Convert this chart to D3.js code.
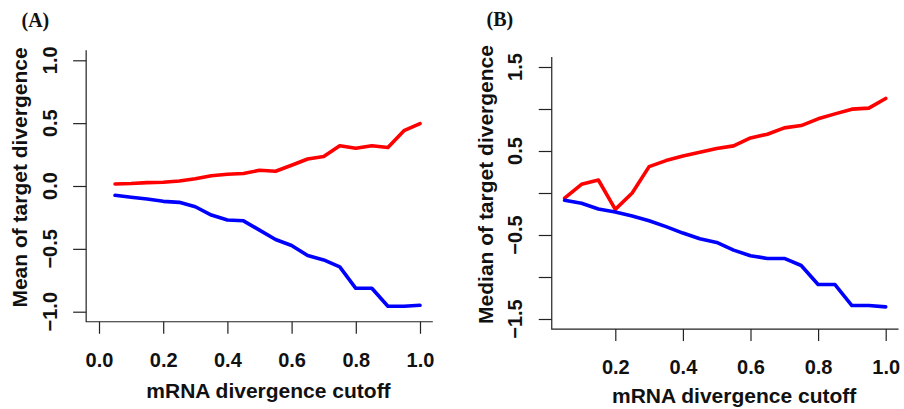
<!DOCTYPE html>
<html>
<head>
<meta charset="utf-8">
<script src="https://cdn.jsdelivr.net/npm/d3@7"></script>
<style>
  html, body { margin: 0; padding: 0; background: #fff; }
  svg { display: block; }
  text { font-family: "Liberation Sans", Arial, Helvetica, sans-serif; font-weight: bold; fill: #111; }
  .panel-tag { font-family: "Liberation Serif", "Times New Roman", serif; font-size: 20px; }
</style>
</head>
<body>
<svg id="fig" width="904" height="409"></svg>
<script>
// mRNA divergence cutoffs shared by both panels
const cutoffs = [0.05, 0.10, 0.15, 0.20, 0.25, 0.30, 0.35, 0.40, 0.45, 0.50,
                 0.55, 0.60, 0.65, 0.70, 0.75, 0.80, 0.85, 0.90, 0.95, 1.00];

// Panel A: mean of target divergence
const meanUp   = [0.016, 0.020, 0.027, 0.030, 0.040, 0.058, 0.082, 0.093, 0.100, 0.125,
                  0.117, 0.165, 0.215, 0.234, 0.320, 0.300, 0.320, 0.306, 0.440, 0.497];
const meanDown = [-0.074, -0.090, -0.104, -0.122, -0.130, -0.165, -0.231, -0.271, -0.277, -0.351,
                  -0.426, -0.473, -0.553, -0.588, -0.644, -0.814, -0.814, -0.957, -0.957, -0.949];

// Panel B: median of target divergence
const medianUp   = [-0.060, 0.103, 0.155, -0.195, 0.000, 0.314, 0.386, 0.441, 0.485, 0.529,
                    0.561, 0.656, 0.700, 0.775, 0.803, 0.883, 0.942, 0.998, 1.010, 1.125];
const medianDown = [-0.087, -0.123, -0.190, -0.227, -0.274, -0.330, -0.400, -0.477, -0.545, -0.588,
                    -0.680, -0.747, -0.779, -0.779, -0.863, -1.090, -1.090, -1.340, -1.340, -1.356];

// Tick values and labels
const xTicksA = [0.0, 0.2, 0.4, 0.6, 0.8, 1.0];
const yTicksA = [-1.0, -0.5, 0.0, 0.5, 1.0];
const xTicksB = [0.2, 0.4, 0.6, 0.8, 1.0];
const yTicksB = [-1.5, -1.0, -0.5, 0.0, 0.5, 1.0, 1.5];
const yLabelsB = [-1.5, -0.5, 0.5, 1.5];

const xTitle = "mRNA divergence cutoff";
const yTitleA = "Mean of target divergence";
const yTitleB = "Median of target divergence";

const svg = d3.select("#fig");
const pad = 0.04;

function widen(lo, hi) { const d = (hi - lo) * pad; return [lo - d, hi + d]; }

function drawPanel(opt) {
  const x = d3.scaleLinear().domain(opt.xDomain).range(opt.xRange);
  const y = d3.scaleLinear().domain(opt.yDomain).range(opt.yRange);
  const [bx0, bx1] = opt.xBox.map(x);
  const [by0, by1] = opt.yBox.map(y);   // by0 bottom, by1 top
  const g = svg.append("g");

  // L-shaped frame
  g.append("path")
    .attr("d", `M${bx0},${by1}V${by0}H${bx1}`)
    .attr("fill", "none").attr("stroke", "#222").attr("stroke-width", 1.2);

  // x axis ticks and labels
  const xAxis = g.append("g").attr("transform", `translate(0,${by0})`)
    .call(d3.axisBottom(x).tickValues(opt.xTicks).tickSize(12).tickFormat(d3.format(".1f")));
  xAxis.select(".domain").remove();
  xAxis.selectAll(".tick line").attr("stroke", "#222").attr("stroke-width", 1.2);
  xAxis.selectAll(".tick text").attr("y", 45).attr("dy", 0)
    .style("font-size", "20px").style("font-family", null).attr("fill", "#111");

  // y axis ticks and rotated labels
  const yAxis = g.append("g").attr("transform", `translate(${bx0},0)`)
    .call(d3.axisLeft(y).tickValues(opt.yTicks).tickSize(13).tickFormat(""));
  yAxis.select(".domain").remove();
  yAxis.selectAll(".tick line").attr("stroke", "#222").attr("stroke-width", 1.2);
  g.selectAll(".ylab").data(opt.yLabels).join("text")
    .attr("class", "ylab")
    .attr("transform", d => `translate(${bx0 - 29.5},${y(d)}) rotate(-90)`)
    .attr("text-anchor", "middle")
    .style("font-size", "20px")
    .text(d => d3.format(".1f")(d).replace("-", "\u2212"));

  // axis titles
  g.append("text")
    .attr("x", (bx0 + bx1) / 2 + 9).attr("y", by0 + opt.xTitleDy)
    .attr("text-anchor", "middle").style("font-size", "21px")
    .text(xTitle);
  g.append("text")
    .attr("transform", `translate(${bx0 - 59.2},${(by0 + by1) / 2 - 8.5}) rotate(-90)`)
    .attr("text-anchor", "middle").style("font-size", "21px")
    .text(opt.yTitle);

  // panel tag
  g.append("text").attr("class", "panel-tag")
    .attr("x", opt.tag[1]).attr("y", opt.tag[2]).text(opt.tag[0]);

  // series
  const line = d3.line().x(d => x(d[0])).y(d => y(d[1]));
  opt.series.forEach(s => {
    g.append("path")
      .datum(cutoffs.map((c, i) => [c, s.values[i]]))
      .attr("d", line)
      .attr("fill", "none")
      .attr("stroke", s.color)
      .attr("stroke-width", 3.6)
      .attr("stroke-linejoin", "round")
      .attr("stroke-linecap", "round");
  });
}

drawPanel({
  xDomain: [0, 1], xRange: [99, 420],
  yDomain: [0, 1], yRange: [186, 60.3],
  xBox: widen(0, 1), yBox: widen(-1, 1),
  xTicks: xTicksA, yTicks: yTicksA, yLabels: yTicksA,
  xTitleDy: 76, yTitle: yTitleA,
  tag: ["(A)", 21.5, 26.5],
  series: [{ values: meanUp, color: "#ff0000" }, { values: meanDown, color: "#0000ff" }]
});

drawPanel({
  xDomain: [0, 1], xRange: [547.7, 885.7],
  yDomain: [0, 1.5], yRange: [193, 67],
  xBox: widen(d3.min(cutoffs), d3.max(cutoffs)), yBox: widen(-1.5, 1.5),
  xTicks: xTicksB, yTicks: yTicksB, yLabels: yLabelsB,
  xTitleDy: 74, yTitle: yTitleB,
  tag: ["(B)", 486.5, 26],
  series: [{ values: medianUp, color: "#ff0000" }, { values: medianDown, color: "#0000ff" }]
});
</script>
</body>
</html>
